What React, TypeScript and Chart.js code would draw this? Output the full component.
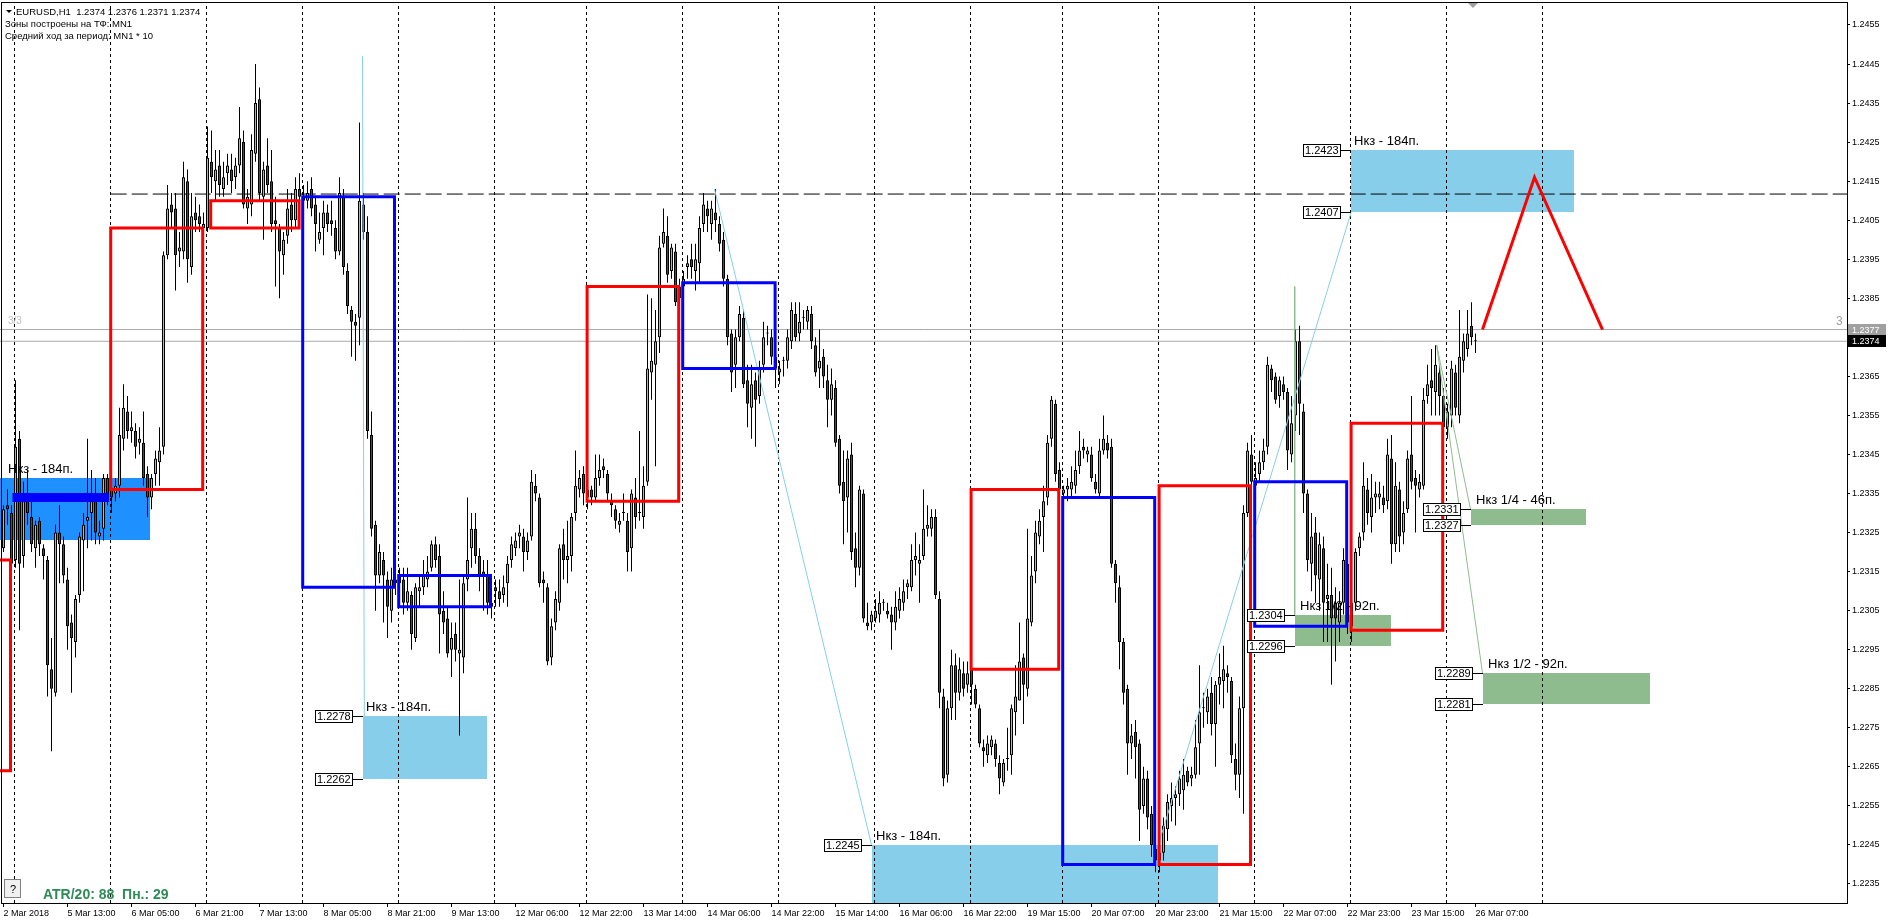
import React, { useEffect, useRef } from 'react';
import { Chart, registerables } from 'chart.js';

Chart.register(...registerables);

// ---------- candle data (EURUSD H1, bar index 0 = 2 Mar 2018 21:00) ----------
const opens = [
  1.2321,1.2332,1.2330,1.2318,1.2349,1.2319,1.2333,1.2329,1.2321,1.2328,
  1.2321,1.2318,1.2290,1.2284,1.2325,1.2322,1.2313,1.2302,1.2297,1.2309,
  1.2323,1.2328,1.2330,1.2333,1.2324,1.2326,1.2339,1.2336,1.2335,1.2337,
  1.2349,1.2356,1.2351,1.2351,1.2348,1.2348,1.2340,1.2334,1.2340,1.2343,
  1.2347,1.2396,1.2409,1.2408,1.2397,1.2397,1.2415,1.2393,1.2407,1.2406,
  1.2403,1.2403,1.2420,1.2415,1.2419,1.2413,1.2417,1.2418,1.2416,1.2419,
  1.2425,1.2408,1.2409,1.2422,1.2436,1.2411,1.2419,1.2415,1.2405,1.2403,
  1.2396,1.2401,1.2409,1.2405,1.2413,1.2411,1.2410,1.2413,1.2409,1.2400,
  1.2403,1.2407,1.2405,1.2403,1.2397,1.2411,1.2392,1.2382,1.2379,1.2380,
  1.2409,1.2402,1.2350,1.2327,1.2314,1.2318,1.2313,1.2305,1.2313,1.2312,
  1.2313,1.2307,1.2309,1.2298,1.2310,1.2311,1.2313,1.2316,1.2322,1.2319,
  1.2305,1.2303,1.2295,1.2299,1.2294,1.2293,1.2313,1.2321,1.2326,1.2319,
  1.2315,1.2314,1.2307,1.2311,1.2310,1.2309,1.2312,1.2318,1.2321,1.2324,
  1.2324,1.2320,1.2324,1.2337,1.2334,1.2313,1.2311,1.2293,1.2302,1.2307,
  1.2322,1.2318,1.2319,1.2330,1.2336,1.2340,1.2334,1.2336,1.2334,1.2339,
  1.2342,1.2340,1.2333,1.2331,1.2327,1.2330,1.2328,1.2321,1.2334,1.2330,
  1.2329,1.2338,1.2366,1.2368,1.2375,1.2399,1.2401,1.2392,1.2397,1.2385,
  1.2388,1.2393,1.2395,1.2392,1.2394,1.2404,1.2408,1.2404,1.2407,1.2404,
  1.2400,1.2390,1.2376,1.2368,1.2375,1.2380,1.2364,1.2357,1.2364,1.2360,
  1.2368,1.2376,1.2375,1.2370,1.2366,1.2369,1.2369,1.2374,1.2381,1.2376,
  1.2380,1.2379,1.2381,1.2373,1.2367,1.2370,1.2364,1.2359,1.2362,1.2349,
  1.2338,1.2334,1.2345,1.2321,1.2316,1.2335,1.2302,1.2302,1.2303,1.2304,
  1.2307,1.2305,1.2304,1.2302,1.2305,1.2307,1.2311,1.2311,1.2318,1.2317,
  1.2319,1.2326,1.2326,1.2329,1.2308,1.2283,1.2263,1.2280,1.2291,1.2284,
  1.2289,1.2286,1.2290,1.2285,1.2280,1.2270,1.2268,1.2270,1.2271,1.2266,
  1.2261,1.2267,1.2268,1.2279,1.2282,1.2293,1.2285,1.2302,1.2315,1.2324,
  1.2329,1.2334,1.2349,1.2358,1.2341,1.2335,1.2336,1.2336,1.2337,1.2342,
  1.2347,1.2345,1.2345,1.2338,1.2335,1.2346,1.2348,1.2347,1.2317,1.2311,
  1.2297,1.2285,1.2271,1.2274,1.2271,1.2255,1.2262,1.2253,1.2244,1.2241,
  1.2243,1.2249,1.2255,1.2257,1.2258,1.2259,1.2264,1.2262,1.2263,1.2271,
  1.2280,1.2279,1.2284,1.2276,1.2286,1.2287,1.2289,1.2287,1.2267,1.2263,
  1.2280,1.2330,1.2345,1.2337,1.2340,1.2343,1.2347,1.2367,1.2365,1.2360,
  1.2363,1.2361,1.2345,1.2355,1.2374,1.2356,1.2335,1.2317,1.2325,1.2313,
  1.2321,1.2308,1.2309,1.2307,1.2302,1.2307,1.2317,1.2301,1.2307,1.2321,
  1.2325,1.2336,1.2329,1.2334,1.2334,1.2334,1.2333,1.2344,1.2322,1.2336,
  1.2325,1.2331,1.2345,1.2339,1.2336,1.2337,1.2360,1.2364,1.2361,1.2366,
  1.2360,1.2352,1.2355,1.2366,1.2355,1.2369,1.2372,1.2378,1.2374,
];
const highs = [
  1.2332,1.2336,1.2332,1.2364,1.2351,1.2338,1.2341,1.2333,1.2328,1.2329,
  1.2322,1.2319,1.2298,1.2327,1.2332,1.2324,1.2316,1.2304,1.2309,1.2325,
  1.2330,1.2349,1.2341,1.2339,1.2328,1.2340,1.2340,1.2338,1.2339,1.2357,
  1.2363,1.2360,1.2356,1.2353,1.2352,1.2356,1.2342,1.2340,1.2346,1.2352,
  1.2397,1.2414,1.2412,1.2412,1.2402,1.2420,1.2418,1.2412,1.2411,1.2409,
  1.2407,1.2429,1.2428,1.2423,1.2423,1.2420,1.2422,1.2422,1.2421,1.2434,
  1.2428,1.2413,1.2427,1.2445,1.2439,1.2420,1.2426,1.2423,1.2411,1.2404,
  1.2402,1.2413,1.2412,1.2416,1.2417,1.2414,1.2415,1.2416,1.2411,1.2407,
  1.2410,1.2409,1.2410,1.2405,1.2416,1.2413,1.2394,1.2383,1.2381,1.2430,
  1.2412,1.2406,1.2356,1.2328,1.2322,1.2320,1.2315,1.2316,1.2315,1.2316,
  1.2316,1.2316,1.2310,1.2312,1.2314,1.2318,1.2319,1.2323,1.2324,1.2322,
  1.2310,1.2306,1.2302,1.2302,1.2313,1.2314,1.2334,1.2330,1.2330,1.2321,
  1.2318,1.2318,1.2310,1.2313,1.2313,1.2314,1.2319,1.2324,1.2325,1.2327,
  1.2326,1.2325,1.2341,1.2340,1.2335,1.2315,1.2312,1.2303,1.2310,1.2322,
  1.2326,1.2328,1.2330,1.2346,1.2341,1.2342,1.2338,1.2337,1.2345,1.2345,
  1.2344,1.2341,1.2335,1.2332,1.2330,1.2335,1.2330,1.2336,1.2339,1.2351,
  1.2342,1.2386,1.2385,1.2382,1.2401,1.2408,1.2406,1.2399,1.2399,1.2390,
  1.2392,1.2396,1.2399,1.2399,1.2406,1.2412,1.2410,1.2410,1.2413,1.2406,
  1.2402,1.2391,1.2377,1.2377,1.2383,1.2382,1.2368,1.2368,1.2366,1.2369,
  1.2379,1.2378,1.2377,1.2371,1.2369,1.2370,1.2377,1.2384,1.2384,1.2384,
  1.2382,1.2383,1.2383,1.2375,1.2377,1.2372,1.2368,1.2367,1.2364,1.2350,
  1.2346,1.2346,1.2348,1.2325,1.2337,1.2336,1.2307,1.2305,1.2308,1.2310,
  1.2308,1.2307,1.2306,1.2310,1.2311,1.2313,1.2313,1.2322,1.2325,1.2322,
  1.2336,1.2332,1.2331,1.2331,1.2310,1.2285,1.2282,1.2295,1.2294,1.2293,
  1.2292,1.2292,1.2292,1.2286,1.2281,1.2272,1.2273,1.2273,1.2272,1.2268,
  1.2267,1.2275,1.2281,1.2291,1.2302,1.2294,1.2326,1.2319,1.2328,1.2331,
  1.2337,1.2350,1.2360,1.2359,1.2343,1.2337,1.2339,1.2342,1.2346,1.2351,
  1.2349,1.2347,1.2347,1.2340,1.2349,1.2355,1.2350,1.2349,1.2318,1.2314,
  1.2298,1.2286,1.2276,1.2277,1.2272,1.2265,1.2264,1.2255,1.2247,1.2244,
  1.2252,1.2258,1.2261,1.2260,1.2264,1.2267,1.2265,1.2265,1.2277,1.2291,
  1.2284,1.2285,1.2288,1.2287,1.2294,1.2296,1.2291,1.2288,1.2271,1.2283,
  1.2332,1.2348,1.2350,1.2343,1.2346,1.2349,1.2370,1.2368,1.2366,1.2365,
  1.2365,1.2362,1.2360,1.2377,1.2378,1.2358,1.2336,1.2330,1.2329,1.2325,
  1.2324,1.2317,1.2316,1.2311,1.2310,1.2321,1.2318,1.2309,1.2321,1.2325,
  1.2343,1.2339,1.2340,1.2338,1.2338,1.2337,1.2349,1.2350,1.2343,1.2338,
  1.2333,1.2346,1.2360,1.2341,1.2340,1.2362,1.2368,1.2372,1.2373,1.2368,
  1.2362,1.2358,1.2369,1.2368,1.2382,1.2376,1.2382,1.2384,1.2376,
];
const lows = [
  1.2320,1.2327,1.2316,1.2316,1.2300,1.2316,1.2327,1.2320,1.2316,1.2319,
  1.2313,1.2283,1.2269,1.2283,1.2312,1.2312,1.2295,1.2284,1.2293,1.2307,
  1.2310,1.2321,1.2323,1.2322,1.2322,1.2323,1.2332,1.2330,1.2333,1.2334,
  1.2346,1.2349,1.2348,1.2344,1.2345,1.2337,1.2329,1.2331,1.2337,1.2337,
  1.2345,1.2395,1.2403,1.2387,1.2393,1.2395,1.2389,1.2391,1.2402,1.2402,
  1.2400,1.2402,1.2412,1.2410,1.2411,1.2411,1.2414,1.2412,1.2413,1.2417,
  1.2408,1.2404,1.2406,1.2420,1.2410,1.2400,1.2412,1.2402,1.2388,1.2385,
  1.2391,1.2399,1.2402,1.2403,1.2408,1.2408,1.2408,1.2406,1.2397,1.2399,
  1.2396,1.2402,1.2401,1.2395,1.2396,1.2391,1.2381,1.2370,1.2369,1.2373,
  1.2400,1.2349,1.2324,1.2305,1.2312,1.2302,1.2298,1.2302,1.2309,1.2309,
  1.2304,1.2305,1.2295,1.2297,1.2306,1.2309,1.2311,1.2315,1.2316,1.2294,
  1.2299,1.2293,1.2288,1.2292,1.2273,1.2289,1.2310,1.2316,1.2317,1.2310,
  1.2305,1.2304,1.2303,1.2306,1.2306,1.2307,1.2306,1.2316,1.2319,1.2321,
  1.2315,1.2318,1.2323,1.2333,1.2311,1.2307,1.2291,1.2291,1.2300,1.2305,
  1.2313,1.2312,1.2315,1.2328,1.2334,1.2332,1.2331,1.2332,1.2333,1.2337,
  1.2339,1.2333,1.2329,1.2326,1.2325,1.2328,1.2315,1.2315,1.2326,1.2328,
  1.2326,1.2337,1.2359,1.2342,1.2371,1.2398,1.2389,1.2390,1.2383,1.2383,
  1.2386,1.2390,1.2390,1.2387,1.2389,1.2402,1.2402,1.2400,1.2402,1.2397,
  1.2388,1.2373,1.2361,1.2362,1.2374,1.2362,1.2352,1.2349,1.2347,1.2358,
  1.2366,1.2373,1.2368,1.2362,1.2363,1.2365,1.2367,1.2372,1.2374,1.2374,
  1.2377,1.2377,1.2372,1.2365,1.2362,1.2362,1.2352,1.2355,1.2347,1.2335,
  1.2322,1.2325,1.2318,1.2311,1.2314,1.2302,1.2300,1.2300,1.2302,1.2302,
  1.2305,1.2303,1.2295,1.2300,1.2303,1.2305,1.2308,1.2310,1.2314,1.2307,
  1.2318,1.2324,1.2324,1.2308,1.2280,1.2260,1.2261,1.2277,1.2277,1.2282,
  1.2283,1.2284,1.2281,1.2280,1.2270,1.2265,1.2266,1.2268,1.2265,1.2258,
  1.2260,1.2264,1.2263,1.2273,1.2282,1.2276,1.2283,1.2301,1.2312,1.2322,
  1.2320,1.2332,1.2347,1.2338,1.2334,1.2332,1.2333,1.2334,1.2335,1.2340,
  1.2344,1.2343,1.2338,1.2335,1.2334,1.2345,1.2344,1.2316,1.2307,1.2290,
  1.2281,1.2263,1.2267,1.2262,1.2246,1.2253,1.2249,1.2242,1.2238,1.2238,
  1.2241,1.2246,1.2251,1.2250,1.2255,1.2254,1.2260,1.2260,1.2262,1.2263,
  1.2275,1.2276,1.2273,1.2265,1.2281,1.2280,1.2284,1.2266,1.2259,1.2257,
  1.2253,1.2329,1.2336,1.2334,1.2338,1.2341,1.2345,1.2361,1.2358,1.2357,
  1.2359,1.2341,1.2343,1.2351,1.2350,1.2330,1.2315,1.2310,1.2307,1.2305,
  1.2297,1.2297,1.2286,1.2292,1.2297,1.2304,1.2299,1.2297,1.2305,1.2319,
  1.2323,1.2327,1.2325,1.2330,1.2331,1.2330,1.2331,1.2317,1.2320,1.2320,
  1.2322,1.2330,1.2336,1.2325,1.2334,1.2336,1.2358,1.2355,1.2355,1.2355,
  1.2350,1.2349,1.2352,1.2355,1.2353,1.2366,1.2370,1.2373,1.2371,
];
const closes = [
  1.2331,1.2331,1.2317,1.2347,1.2317,1.2333,1.2330,1.2322,1.2327,1.2322,
  1.2319,1.2291,1.2285,1.2325,1.2322,1.2314,1.2301,1.2298,1.2308,1.2324,
  1.2327,1.2329,1.2333,1.2325,1.2325,1.2339,1.2335,1.2334,1.2337,1.2350,
  1.2357,1.2351,1.2352,1.2347,1.2349,1.2339,1.2334,1.2339,1.2344,1.2346,
  1.2396,1.2408,1.2407,1.2396,1.2398,1.2416,1.2395,1.2406,1.2405,1.2404,
  1.2404,1.2421,1.2416,1.2418,1.2414,1.2416,1.2419,1.2415,1.2419,1.2426,
  1.2409,1.2411,1.2423,1.2435,1.2412,1.2418,1.2414,1.2404,1.2404,1.2397,
  1.2400,1.2408,1.2405,1.2413,1.2411,1.2410,1.2412,1.2408,1.2404,1.2402,
  1.2407,1.2404,1.2404,1.2397,1.2412,1.2393,1.2383,1.2379,1.2378,1.2410,
  1.2402,1.2351,1.2326,1.2314,1.2320,1.2314,1.2306,1.2313,1.2312,1.2314,
  1.2307,1.2310,1.2299,1.2311,1.2311,1.2314,1.2315,1.2322,1.2318,1.2304,
  1.2302,1.2294,1.2298,1.2295,1.2295,1.2312,1.2318,1.2326,1.2319,1.2314,
  1.2314,1.2307,1.2306,1.2310,1.2308,1.2311,1.2317,1.2322,1.2323,1.2325,
  1.2320,1.2323,1.2338,1.2335,1.2312,1.2312,1.2292,1.2301,1.2308,1.2321,
  1.2318,1.2319,1.2329,1.2337,1.2339,1.2335,1.2336,1.2334,1.2339,1.2341,
  1.2341,1.2335,1.2332,1.2328,1.2328,1.2330,1.2320,1.2335,1.2329,1.2330,
  1.2337,1.2367,1.2369,1.2374,1.2398,1.2402,1.2391,1.2398,1.2384,1.2388,
  1.2390,1.2394,1.2393,1.2395,1.2403,1.2409,1.2406,1.2408,1.2405,1.2399,
  1.2390,1.2375,1.2366,1.2375,1.2381,1.2363,1.2358,1.2363,1.2359,1.2367,
  1.2375,1.2376,1.2370,1.2367,1.2367,1.2369,1.2375,1.2382,1.2375,1.2379,
  1.2380,1.2382,1.2374,1.2366,1.2369,1.2365,1.2359,1.2363,1.2348,1.2337,
  1.2333,1.2344,1.2320,1.2316,1.2336,1.2303,1.2301,1.2304,1.2305,1.2307,
  1.2307,1.2304,1.2302,1.2306,1.2308,1.2310,1.2312,1.2318,1.2319,1.2318,
  1.2326,1.2327,1.2329,1.2309,1.2284,1.2262,1.2280,1.2291,1.2284,1.2290,
  1.2285,1.2289,1.2286,1.2281,1.2271,1.2269,1.2271,1.2272,1.2267,1.2262,
  1.2266,1.2267,1.2280,1.2283,1.2292,1.2286,1.2303,1.2314,1.2325,1.2328,
  1.2333,1.2348,1.2359,1.2340,1.2336,1.2336,1.2337,1.2338,1.2341,1.2346,
  1.2346,1.2346,1.2339,1.2336,1.2346,1.2349,1.2346,1.2317,1.2312,1.2297,
  1.2284,1.2271,1.2273,1.2270,1.2254,1.2262,1.2252,1.2245,1.2241,1.2243,
  1.2250,1.2256,1.2257,1.2258,1.2262,1.2263,1.2261,1.2263,1.2270,1.2279,
  1.2280,1.2283,1.2276,1.2286,1.2288,1.2290,1.2288,1.2268,1.2263,1.2280,
  1.2330,1.2346,1.2338,1.2339,1.2343,1.2346,1.2368,1.2364,1.2359,1.2364,
  1.2361,1.2346,1.2353,1.2374,1.2358,1.2335,1.2318,1.2324,1.2314,1.2322,
  1.2307,1.2309,1.2303,1.2303,1.2307,1.2318,1.2302,1.2307,1.2320,1.2324,
  1.2337,1.2330,1.2334,1.2335,1.2335,1.2332,1.2345,1.2322,1.2337,1.2324,
  1.2330,1.2344,1.2338,1.2337,1.2338,1.2359,1.2363,1.2362,1.2368,1.2360,
  1.2352,1.2356,1.2367,1.2357,1.2370,1.2374,1.2376,1.2375,1.2374,
];

// ---------- axes ----------
const timeTickIdx = [0,16,32,48,64,80,96,112,128,144,160,176,192,208,224,240,256,272,288,304,320,336,352,368];
const timeTickLabels = [
  '2 Mar 2018','5 Mar 13:00','6 Mar 05:00','6 Mar 21:00','7 Mar 13:00','8 Mar 05:00','8 Mar 21:00','9 Mar 13:00',
  '12 Mar 06:00','12 Mar 22:00','13 Mar 14:00','14 Mar 06:00','14 Mar 22:00','15 Mar 14:00','16 Mar 06:00','16 Mar 22:00',
  '19 Mar 15:00','20 Mar 07:00','20 Mar 23:00','21 Mar 15:00','22 Mar 07:00','22 Mar 23:00','23 Mar 15:00','26 Mar 07:00',
];
const priceTicks = [1.2235,1.2245,1.2255,1.2265,1.2275,1.2285,1.2295,1.2305,1.2315,1.2325,1.2335,1.2345,1.2355,1.2365,1.2375,1.2385,1.2395,1.2405,1.2415,1.2425,1.2435,1.2445,1.2455];
const daySeparatorIdx = [3,27,51,75,99,123,146,170,194,218,242,265,289,313,337,361,385];

// ---------- daily boxes ----------
const boxStart  = [-25, 26.8, 51.8, 74.8, 98.8, 145.9, 169.8, 241.9, 264.8, 288.9, 312.8, 336.9];
const boxEnd    = [1.75, 49.8, 73.9, 97.75, 121.75, 168.8, 192.9, 263.8, 287.8, 311.75, 335.8, 359.8];
const boxTop    = [1.2318, 1.2403, 1.2410, 1.2411, 1.2314, 1.2388, 1.2389, 1.2336, 1.2334, 1.2337, 1.2338, 1.2353];
const boxBottom = [1.2264, 1.2336, 1.2403, 1.2311, 1.2306, 1.2333, 1.2367, 1.2290, 1.2240, 1.2240, 1.2301, 1.2300];
const boxColor  = ['#FF0000','#FF0000','#FF0000','#0000FF','#0000FF','#FF0000','#0000FF','#FF0000','#0000FF','#FF0000','#0000FF','#FF0000'];

// ---------- zones ----------
const zoneStart  = [-5, 89.9, 217, 336.9, 322.8, 366.75, 369.75];
const zoneEnd    = [36.6, 120.75, 303.5, 392.5, 346.75, 395.5, 411.5];
const zoneTop    = [1.2339, 1.2278, 1.2245, 1.2423, 1.2304, 1.2331, 1.2289];
const zoneBottom = [1.2323, 1.2262, 1.2225, 1.2407, 1.2296, 1.2327, 1.2281];
const zoneColor  = ['#1E90FF','#87CEEB','#87CEEB','#87CEEB','#8FBC8F','#8FBC8F','#8FBC8F'];
const zoneText   = ['Нкз - 184п.','Нкз - 184п.','Нкз - 184п.','Нкз - 184п.','Нкз 1/2 - 92п.','Нкз 1/4 - 46п.','Нкз 1/2 - 92п.'];
const zoneTextIdx = [1, 90.7, 218.2, 337.5, 324, 368, 371];

// price tags beside zones
const tagIdx   = [89.9, 89.9, 217, 336.9, 336.9, 322.8, 322.8, 366.75, 366.75, 369.75, 369.75];
const tagPrice = [1.2278, 1.2262, 1.2245, 1.2423, 1.2407, 1.2304, 1.2296, 1.2331, 1.2327, 1.2289, 1.2281];

// ---------- thin trend lines ----------
const trendX1 = [89.75, 177.75, 289, 322.8, 358.3, 358.3];
const trendY1 = [1.2447, 1.2413, 1.2246, 1.2388, 1.2373, 1.2373];
const trendX2 = [90.2, 217, 336.9, 322.8, 366.75, 369.75];
const trendY2 = [1.2278, 1.2245, 1.2407, 1.2304, 1.2331, 1.2289];
const trendColor = ['#87CEEB','#87CEEB','#87CEEB','#8FBC8F','#8FBC8F','#8FBC8F'];

// projected zigzag
const zigX = [369.75, 382.75, 399.75];
const zigY = [1.2377, 1.2416, 1.2377];

// horizontal levels
const levelHigh = 1.24117;
const levelHighStart = 26.8;
const thickLevel = 1.2334;
const thickStart = 2.25;
const thickEnd = 26.4;
const askPrice = 1.2377;
const bidPrice = 1.2374;

const X_MIN = -0.875;
const X_MAX = 460.875;
const Y_MIN = 1.223013;
const Y_MAX = 1.246063;

const SANS = "'Liberation Sans', Arial, sans-serif";

export default function App() {
  const ref = useRef<HTMLCanvasElement | null>(null);

  useEffect(() => {
    const canvas = ref.current;
    if (!canvas) return;
    const n = opens.length;
    const idx = Array.from({ length: n }, (_, i) => i);

    const lineDs = (pts: any[], color: string, width: number, dash: number[], order: number, cap = 'butt') => ({
      type: 'line',
      data: pts,
      borderColor: color,
      backgroundColor: color,
      borderWidth: width,
      borderDash: dash,
      borderCapStyle: cap,
      borderJoinStyle: 'miter',
      pointRadius: 0,
      pointHoverRadius: 0,
      fill: false,
      tension: 0,
      order,
    });

    const datasets: any[] = [];
    daySeparatorIdx.forEach((s) => {
      datasets.push(lineDs([{ x: s - 0.25, y: Y_MIN }, { x: s - 0.25, y: Y_MAX }], '#000000', 1, [3, 3], 20));
    });
    datasets.push(lineDs([{ x: X_MIN, y: askPrice }, { x: X_MAX, y: askPrice }], '#A9A9A9', 1, [], 15));
    datasets.push(lineDs([{ x: X_MIN, y: bidPrice }, { x: X_MAX, y: bidPrice }], '#A9A9A9', 1, [], 15));
    datasets.push(lineDs([{ x: levelHighStart, y: levelHigh }, { x: X_MAX, y: levelHigh }], '#000000', 1, [16, 5], 15));

    datasets.push({
      type: 'bar',
      data: idx.map((i) => ({ x: i, y: [lows[i], highs[i]] })),
      backgroundColor: '#000000',
      borderWidth: 0,
      barThickness: 1,
      grouped: false,
      inflateAmount: 0,
      order: 10,
    });
    datasets.push({
      type: 'bar',
      data: idx.map((i) => ({ x: i, y: [opens[i], closes[i]] })),
      backgroundColor: idx.map((i) => (closes[i] >= opens[i] ? '#00FFFF' : '#FF0000')),
      borderColor: '#000000',
      borderWidth: 1,
      borderSkipped: false,
      barThickness: 3,
      minBarLength: 1,
      grouped: false,
      inflateAmount: 0,
      order: 9,
    });

    trendX1.forEach((x1, k) => {
      datasets.push(lineDs([{ x: x1, y: trendY1[k] }, { x: trendX2[k], y: trendY2[k] }], trendColor[k], 1, [], 5));
    });

    boxStart.forEach((s, k) => {
      const e = boxEnd[k];
      datasets.push(lineDs([
        { x: s, y: boxTop[k] }, { x: e, y: boxTop[k] }, { x: e, y: boxBottom[k] },
        { x: s, y: boxBottom[k] }, { x: s, y: boxTop[k] },
      ], boxColor[k], 3, [], 3, 'square'));
    });
    datasets.push(lineDs([{ x: thickStart, y: thickLevel }, { x: thickEnd, y: thickLevel }], '#0000FF', 9, [], 2));
    datasets.push(lineDs(zigX.map((x, k) => ({ x, y: zigY[k] })), '#FF0000', 3, [], 1));

    const overlay = {
      id: 'mt4overlay',
      beforeDatasetsDraw(chart: any) {
        const { ctx, chartArea: a, scales } = chart;
        const xs = scales.x, ys = scales.y;
        ctx.save();
        ctx.beginPath();
        ctx.rect(a.left, a.top, a.right - a.left, a.bottom - a.top);
        ctx.clip();
        zoneStart.forEach((s, k) => {
          const x1 = Math.round(xs.getPixelForValue(s));
          const x2 = Math.round(xs.getPixelForValue(zoneEnd[k]));
          const y1 = Math.round(ys.getPixelForValue(zoneTop[k]));
          const y2 = Math.round(ys.getPixelForValue(zoneBottom[k]));
          ctx.fillStyle = zoneColor[k];
          ctx.fillRect(x1, y1, x2 - x1, y2 - y1);
        });
        ctx.restore();
      },
      afterDatasetsDraw(chart: any) {
        const { ctx, chartArea: a, scales } = chart;
        const xs = scales.x, ys = scales.y;
        ctx.save();
        ctx.beginPath();
        ctx.rect(a.left, a.top, a.right - a.left, a.bottom - a.top);
        ctx.clip();
        // zone captions
        ctx.font = `13px ${SANS}`;
        ctx.fillStyle = '#000000';
        ctx.textBaseline = 'alphabetic';
        zoneText.forEach((t, k) => {
          ctx.fillText(t, Math.round(xs.getPixelForValue(zoneTextIdx[k])), Math.round(ys.getPixelForValue(zoneTop[k])) - 5);
        });
        // price tags
        ctx.font = `11px ${SANS}`;
        ctx.textBaseline = 'middle';
        tagIdx.forEach((t, k) => {
          const xz = Math.round(xs.getPixelForValue(t));
          const py = Math.round(ys.getPixelForValue(tagPrice[k]));
          const label = tagPrice[k].toFixed(4);
          const w = Math.ceil(ctx.measureText(label).width) + 4;
          const bx = xz - 10 - w;
          ctx.fillStyle = '#FFFFFF';
          ctx.fillRect(bx, py - 6, w, 12);
          ctx.strokeStyle = '#000000';
          ctx.lineWidth = 1;
          ctx.strokeRect(bx + 0.5, py - 5.5, w - 1, 12);
          ctx.beginPath();
          ctx.moveTo(bx + w, py + 0.5);
          ctx.lineTo(xz, py + 0.5);
          ctx.stroke();
          ctx.fillStyle = '#000000';
          ctx.fillText(label, bx + 2, py + 1);
        });
        // bid-line counters
        ctx.textBaseline = 'alphabetic';
        ctx.font = `10px ${SANS}`;
        ctx.fillStyle = '#C0C0C0';
        ctx.fillText('3/3', 8, 324);
        ctx.font = `12px ${SANS}`;
        ctx.fillStyle = '#A0A0A0';
        ctx.fillText('3', 1836, 325);
        // ATR info
        ctx.font = `bold 14px ${SANS}`;
        ctx.fillStyle = '#2E8B57';
        ctx.fillText('ATR/20: 88  Пн.: 29', 43, 899);
        // "?" button
        ctx.fillStyle = '#F0F0F0';
        ctx.fillRect(4, 879, 17, 19);
        ctx.strokeStyle = '#808080';
        ctx.lineWidth = 1;
        ctx.strokeRect(4.5, 879.5, 16, 18);
        ctx.fillStyle = '#000000';
        ctx.font = `11px ${SANS}`;
        ctx.fillText('?', 10, 893);
        ctx.restore();
      },
      afterDraw(chart: any) {
        const { ctx, chartArea: a, scales } = chart;
        const ys = scales.y;
        ctx.save();
        // frame
        ctx.strokeStyle = '#000000';
        ctx.lineWidth = 1;
        ctx.strokeRect(1.5, 2.5, a.right - 1, a.bottom - 2);
        // header
        ctx.fillStyle = '#000000';
        ctx.beginPath();
        ctx.moveTo(6, 10);
        ctx.lineTo(12, 10);
        ctx.lineTo(9, 13);
        ctx.closePath();
        ctx.fill();
        ctx.font = `9.5px ${SANS}`;
        ctx.textBaseline = 'alphabetic';
        const last = n - 1;
        ctx.fillText(`EURUSD,H1  ${opens[last].toFixed(4)} ${highs[last].toFixed(4)} ${lows[last].toFixed(4)} ${closes[last].toFixed(4)}`, 16, 15);
        ctx.fillText('Зоны построены на ТФ: MN1', 5, 27);
        ctx.fillText('Средний ход за период: MN1 * 10', 5, 39);
        // shift marker
        ctx.fillStyle = '#A0A0A0';
        ctx.beginPath();
        ctx.moveTo(1468, 3);
        ctx.lineTo(1478, 3);
        ctx.lineTo(1473, 8);
        ctx.closePath();
        ctx.fill();
        // axis price boxes
        ctx.font = `9px ${SANS}`;
        const tag = (price: number, bg: string) => {
          const py = Math.round(ys.getPixelForValue(price));
          ctx.fillStyle = bg;
          ctx.fillRect(a.right + 1, py - 6, 38, 12);
          ctx.fillStyle = '#FFFFFF';
          ctx.textBaseline = 'middle';
          ctx.fillText(price.toFixed(4), a.right + 5, py + 1);
        };
        tag(askPrice, '#A0A0A0');
        tag(bidPrice, '#000000');
        ctx.restore();
      },
    };

    const chart = new Chart(canvas, {
      type: 'bar',
      data: { datasets },
      options: {
        animation: false,
        responsive: false,
        devicePixelRatio: 1,
        events: [],
        layout: { padding: { top: 3, left: 0, right: 0, bottom: 0 } },
        plugins: { legend: { display: false }, tooltip: { enabled: false } },
        scales: {
          x: {
            type: 'linear',
            min: X_MIN,
            max: X_MAX,
            offset: false,
            grid: { display: true, drawOnChartArea: false, drawTicks: true, tickLength: 4, color: '#000000', offset: false },
            border: { display: false },
            ticks: {
              autoSkip: false,
              maxRotation: 0,
              minRotation: 0,
              align: 'start',
              padding: 1,
              color: '#000000',
              font: { family: SANS, size: 9 },
              callback: (v: any) => {
                const k = timeTickIdx.indexOf(Number(v));
                return k >= 0 ? timeTickLabels[k] : '';
              },
            },
            afterBuildTicks: (axis: any) => {
              axis.ticks = timeTickIdx.map((v) => ({ value: v }));
            },
            afterFit: (axis: any) => {
              axis.height = 21;
              axis.paddingLeft = 0;
              axis.paddingRight = 0;
            },
          },
          y: {
            type: 'linear',
            position: 'right',
            min: Y_MIN,
            max: Y_MAX,
            beginAtZero: false,
            grid: { display: true, drawOnChartArea: false, drawTicks: true, tickLength: 3, color: '#000000' },
            border: { display: false },
            ticks: {
              padding: 2,
              color: '#000000',
              font: { family: SANS, size: 9 },
              callback: (v: any) => Number(v).toFixed(4),
            },
            afterBuildTicks: (axis: any) => {
              axis.ticks = priceTicks.map((v) => ({ value: v }));
            },
            afterFit: (axis: any) => {
              axis.width = 42;
              axis.paddingTop = 0;
              axis.paddingBottom = 0;
            },
          },
        },
      } as any,
      plugins: [overlay],
    } as any);

    return () => chart.destroy();
  }, []);

  return (
    <div style={{ position: 'fixed', left: 0, top: 0, width: 1889, height: 924, background: '#FFFFFF' }}>
      <canvas ref={ref} width={1889} height={924} style={{ display: 'block' }} />
    </div>
  );
}
